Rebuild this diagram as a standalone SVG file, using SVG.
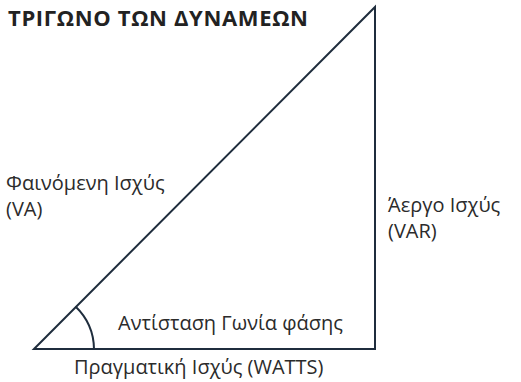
<svg xmlns="http://www.w3.org/2000/svg" width="521" height="382" viewBox="0 0 521 382">
<style>
.t{font-family:"Open Sans","Noto Sans","DejaVu Sans",sans-serif;font-size:20px;fill:#2b2b2b}
.h{font-family:"Open Sans","Noto Sans","DejaVu Sans",sans-serif;font-size:22px;font-weight:bold;fill:#222}
.ln{fill:none;stroke:#1f2d3d;stroke-width:2;stroke-linejoin:miter}
</style>
<rect width="521" height="382" fill="#fff"/>
<text class="h" x="8" y="26" textLength="300" lengthAdjust="spacing">ΤΡΙΓΩΝΟ ΤΩΝ ΔΥΝΑΜΕΩΝ</text>
<g id="triangle">
<path class="ln" d="M34,349 L375,7 L375,349 Z"/>
<path class="ln" d="M75.5,306.5 A60,60 0 0 1 94,349"/>
</g>
<g id="labels">
<text class="t" x="6" y="190">Φαινόμενη Ισχύς<tspan x="6" dy="26">(VA)</tspan></text>
<text class="t" x="388" y="212">Άεργο Ισχύς<tspan x="388" dy="26">(VAR)</tspan></text>
<text class="t" x="118" y="330">Αντίσταση Γωνία φάσης</text>
<text class="t" x="74" y="374">Πραγματική Ισχύς (WATTS)</text>
</g>
</svg>
